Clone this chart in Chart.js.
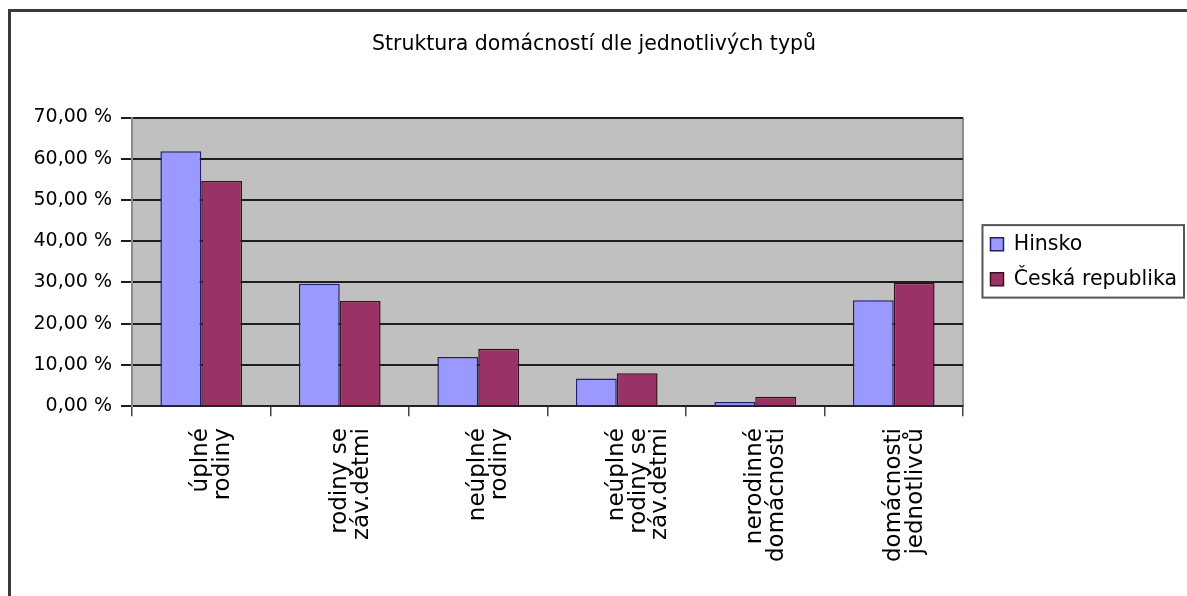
<!DOCTYPE html>
<html>
<head>
<meta charset="utf-8">
<script src="https://cdn.jsdelivr.net/npm/chart.js@4.4.0/dist/chart.umd.min.js"></script>
<style>
body { margin: 0; background: #fff; }
</style>
</head>
<body>
<canvas id="chart" width="1187" height="596"></canvas>
<script>
// data
const categories = [
    ["úplné", "rodiny"],
    ["rodiny se", "záv.dětmi"],
    ["neúplné", "rodiny"],
    ["neúplné", "rodiny se", "záv.dětmi"],
    ["nerodinné", "domácnosti"],
    ["domácnosti", "jednotlivců"]
];
const hinsko = [61.8, 29.7, 11.9, 6.7, 1.0, 25.7];
const ceskaRepublika = [54.6, 25.5, 13.9, 8.0, 2.3, 29.9];
const yTickLabels = ["0,00 %", "10,00 %", "20,00 %", "30,00 %", "40,00 %", "50,00 %", "60,00 %", "70,00 %"];

const fontName = "'DejaVu Sans', sans-serif";

// white page, outer frame, grey plot area and the box round the legend
const framePlugin = {
    id: "frame",
    afterLayout(chart){
        // leave a gap between the plot and the legend
        chart.legend.left += 13;
        chart.legend.right += 13;
    },
    beforeDraw(chart){
        const ctx = chart.ctx;
        const area = chart.chartArea;
        ctx.save();
        ctx.fillStyle = "#ffffff";
        ctx.fillRect(0, 0, chart.width, chart.height);
        ctx.strokeStyle = "#3a3a3a";
        ctx.lineWidth = 3;
        ctx.beginPath();
        ctx.moveTo(9.5, chart.height);
        ctx.lineTo(9.5, 10.5);
        ctx.lineTo(chart.width, 10.5);
        ctx.stroke();
        ctx.fillStyle = "#c0c0c0";
        ctx.fillRect(area.left, area.top, area.right - area.left, area.bottom - area.top);
        ctx.strokeStyle = "#8c8c8c";
        ctx.lineWidth = 2;
        ctx.beginPath();
        ctx.moveTo(area.right, area.top);
        ctx.lineTo(area.right, area.bottom);
        ctx.stroke();
        ctx.restore();
    },
    afterDraw(chart){
        const boxes = chart.legend.legendHitBoxes;
        if(!boxes || !boxes.length){
            return;
        }
        let left = Infinity, top = Infinity, right = -Infinity, bottom = -Infinity;
        for(let i = 0; i < boxes.length; i++){
            left = Math.min(left, boxes[i].left);
            top = Math.min(top, boxes[i].top);
            right = Math.max(right, boxes[i].left + boxes[i].width);
            bottom = Math.max(bottom, boxes[i].top + boxes[i].height);
        }
        const ctx = chart.ctx;
        ctx.save();
        ctx.strokeStyle = "#555555";
        ctx.lineWidth = 2;
        ctx.strokeRect(left - 8, top - 9, right - left + 15, bottom - top + 17);
        ctx.restore();
    }
};

new Chart(document.getElementById("chart"), {
    type: "bar",
    data: {
        labels: categories,
        datasets: [{
            label: "Hinsko",
            data: hinsko,
            backgroundColor: "#9999ff",
            borderColor: "#20206a",
            borderWidth: 1.5
        }, {
            label: "Česká republika",
            data: ceskaRepublika,
            backgroundColor: "#993366",
            borderColor: "#3a0f22",
            borderWidth: 1.5
        }]
    },
    options: {
        responsive: false,
        animation: false,
        devicePixelRatio: 1,
        datasets: {
            bar: { categoryPercentage: 0.59, barPercentage: 1.0 }
        },
        layout: {
            padding: { left: 14, right: 13, top: 0, bottom: 22 }
        },
        plugins: {
            title: {
                display: true,
                text: "Struktura domácností dle jednotlivých typů",
                color: "#000000",
                font: { family: fontName, size: 20.5, weight: "normal", lineHeight: 1.1 },
                padding: { top: 33, bottom: 62 }
            },
            legend: {
                position: "right",
                fullSize: false,
                labels: {
                    color: "#000000",
                    font: { family: fontName, size: 20.5 },
                    boxWidth: 13,
                    boxHeight: 13,
                    padding: 14.5
                }
            },
            tooltip: { enabled: false }
        },
        scales: {
            x: {
                grid: {
                    drawOnChartArea: false,
                    color: "#444444",
                    tickLength: 10,
                    lineWidth: 1.5
                },
                border: { color: "#222222", width: 2 },
                ticks: {
                    color: "#000000",
                    font: { family: fontName, size: 23, lineHeight: 0.95 },
                    maxRotation: 90,
                    minRotation: 90,
                    autoSkip: false,
                    padding: 12
                }
            },
            y: {
                min: 0,
                max: 70,
                afterFit: function(scale){
                    scale.width = 118;
                },
                grid: {
                    color: "#1e1e1e",
                    lineWidth: 2,
                    tickLength: 11
                },
                border: { color: "#8c8c8c", width: 2 },
                ticks: {
                    stepSize: 10,
                    color: "#000000",
                    font: { family: fontName, size: 19 },
                    padding: 9,
                    callback: function(value, index){
                        return yTickLabels[index];
                    }
                }
            }
        }
    },
    plugins: [framePlugin]
});
</script>
</body>
</html>
